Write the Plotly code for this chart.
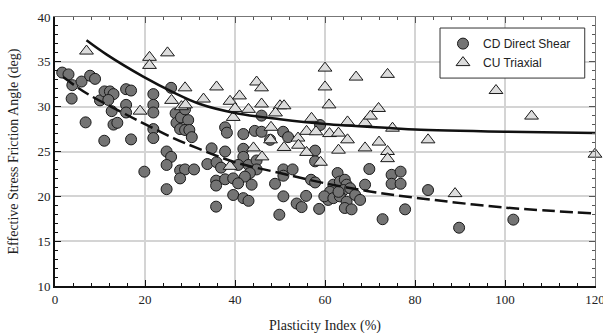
import plotly.graph_objects as go

# CD Direct Shear (circles)
cd_x = [1.6, 3.0, 3.85, 3.7, 5.9, 7.8, 8.9, 6.8, 10.0, 11.0, 12.2, 13.0, 11.85, 12.6, 13.0, 13.85,
        15.8, 16.9, 15.8, 15.8, 10.95, 16.9, 21.85, 21.85, 21.85, 21.85, 21.85, 19.85, 25.8, 26.8,
        27.0, 28.0, 28.9, 29.6, 27.8, 28.9, 29.85, 30.4, 24.8, 25.8, 24.8, 24.8, 27.8, 28.9, 30.9,
        27.8, 34.8, 33.85, 35.9, 36.9, 37.8, 37.8, 38.2, 35.8, 35.8, 37.8, 39.6, 35.8, 39.6, 41.85,
        44.4, 45.9, 45.9, 47.8, 41.85, 41.85, 40.7, 43.0, 44.8, 44.8, 43.3, 42.2, 40.7, 43.7, 41.85,
        43.0, 48.9, 50.75, 50.75, 52.8, 50.75, 49.85, 55.8, 53.7, 54.8, 56.9, 57.8, 57.8, 57.8, 58.7,
        58.9, 50.7, 51.8, 62.8, 61.85, 61.1, 60.7, 59.85, 63.3, 64.4, 64.8, 64.1, 65.6, 66.7, 67.8,
        61.85, 63.3, 64.8, 64.4, 65.9, 63.0, 68.9, 69.85, 74.8, 76.8, 74.8, 76.8, 77.8, 72.8, 82.9,
        89.8, 101.85]
cd_y = [33.8, 33.6, 32.4, 30.9, 32.8, 33.45, 33.1, 28.25, 30.7, 31.7, 31.7, 31.4, 30.75, 29.5, 28.0, 28.2,
        31.95, 31.8, 30.2, 29.35, 26.2, 26.35, 31.4, 30.2, 29.35, 27.5, 26.5, 22.75, 32.1, 29.25,
        28.2, 28.8, 29.7, 28.5, 27.5, 27.4, 27.4, 26.6, 25.0, 24.4, 23.5, 20.8, 22.9, 23.0, 23.0,
        22.0, 25.35, 23.6, 23.8, 23.2, 25.0, 27.7, 27.1, 21.75, 21.2, 21.9, 22.0, 18.85, 20.15, 26.95,
        27.3, 27.2, 29.0, 26.3, 25.3, 24.4, 23.5, 23.5, 24.0, 23.0, 22.6, 22.2, 21.45, 21.3, 19.8,
        19.5, 21.4, 23.0, 22.3, 23.0, 20.0, 17.95, 20.05, 19.2, 18.8, 21.85, 21.55, 25.1, 23.9, 18.6,
        27.95, 27.2, 26.6, 22.6, 21.3, 20.5, 19.6, 20.0, 21.65, 21.85, 21.3, 20.7, 20.9, 20.15, 19.6,
        19.8, 20.0, 19.4, 18.7, 18.55, 20.5, 21.3, 23.05, 22.4, 22.75, 21.4, 21.4, 18.55, 17.45, 20.7,
        16.5, 17.4]

# CU Triaxial (triangles)
cu_x = [7.0, 21.0, 21.0, 25.0, 18.9, 25.9, 28.1, 29.0, 28.9, 33.0, 35.9, 38.9, 39.6, 41.0, 40.0, 43.0,
        44.8, 45.9, 45.9, 50.0, 50.9, 49.0, 48.0, 47.9, 44.1, 46.0, 38.9, 50.9, 54.0, 54.1, 55.9,
        57.0, 55.9, 58.0, 61.0, 63.0, 60.0, 60.0, 60.9, 59.0, 63.0, 65.0, 65.0, 66.9, 68.9, 68.9,
        70.1, 71.9, 72.0, 73.9, 73.9, 73.9, 75.0, 82.9, 88.9, 98.0, 105.9, 120.0]
cu_y = [36.2, 35.5, 34.6, 36.0, 29.5, 30.7, 30.0, 30.2, 32.1, 30.85, 32.2, 30.6, 28.8, 31.2, 29.8, 29.7,
        32.75, 32.1, 30.3, 30.1, 30.1, 29.3, 27.7, 26.3, 25.4, 24.4, 23.35, 25.45, 26.5, 25.7, 24.9,
        28.7, 27.25, 27.2, 27.0, 27.05, 34.3, 32.2, 30.2, 23.8, 25.15, 28.3, 26.3, 33.3, 28.2, 25.4,
        28.95, 29.8, 26.05, 33.6, 25.0, 24.2, 27.6, 26.3, 20.3, 31.8, 28.95, 24.7]

# Trend lines
cu_trend_x = [7, 11.5, 19.6, 26.3, 32.2, 40, 50, 60, 75, 80, 100, 120]
cu_trend_y = [37.4, 35.8, 33.35, 31.6, 30.3, 29.3, 28.6, 28.07, 27.6, 27.45, 27.2, 27.05]
cd_trend_x = [1.8, 7, 15.9, 21.8, 26.3, 31.5, 40, 50, 59.6, 69.3, 80, 100, 120]
cd_trend_y = [33.3, 31.5, 29.1, 27.6, 26.5, 25.4, 23.8, 22.6, 21.5, 20.6, 19.85, 18.75, 18.1]

x_range = [0, 120]
y_range = [10, 40]
x_title = "Plasticity Index (%)"
y_title = "Effective Stress Friction Angle (deg)"

fig = go.Figure()
fig.add_trace(go.Scatter(x=cd_x, y=cd_y, mode="markers", name="CD Direct Shear",
                         marker=dict(symbol="circle", size=11, color="#747474",
                                     line=dict(color="#1a1a1a", width=1))))
fig.add_trace(go.Scatter(x=cu_x, y=cu_y, mode="markers", name="CU Triaxial", cliponaxis=False,
                         marker=dict(symbol="triangle-up", size=12, color="#dcdcdc",
                                     line=dict(color="#1a1a1a", width=1))))
fig.add_trace(go.Scatter(x=cu_trend_x, y=cu_trend_y, mode="lines", showlegend=False,
                         line=dict(color="#111111", width=2.5, shape="spline")))
fig.add_trace(go.Scatter(x=cd_trend_x, y=cd_trend_y, mode="lines", showlegend=False,
                         line=dict(color="#111111", width=2.5, shape="spline", dash="13px,5px")))
# invisible helper trace so the top/right frame axes get drawn
fig.add_trace(go.Scatter(x=x_range, y=y_range, xaxis="x2", yaxis="y2", mode="markers",
                         marker=dict(opacity=0, size=1), showlegend=False, hoverinfo="skip"))

serif = "Liberation Serif"
fig.update_layout(
    width=603, height=333,
    margin=dict(l=55, r=8, t=17, b=47, autoexpand=False),
    paper_bgcolor="white", plot_bgcolor="white",
    font=dict(family=serif, size=12, color="#222"),
    xaxis=dict(range=x_range, dtick=20, tick0=0, showline=True, linecolor="#111", linewidth=2,
               ticks="inside", ticklen=6, tickcolor="#111", tickwidth=1, automargin=False,
               showgrid=True, gridcolor="#d4d4d4", gridwidth=1.5, zeroline=False,
               ticklabeloverflow="allow",
               minor=dict(dtick=4, ticks="inside", ticklen=3, tickcolor="#111", showgrid=False),
               tickfont=dict(family=serif, size=13)),
    yaxis=dict(range=y_range, dtick=5, tick0=10, showline=True, linecolor="#111", linewidth=2,
               ticks="inside", ticklen=6, tickcolor="#111", tickwidth=1, automargin=False,
               showgrid=True, gridcolor="#d4d4d4", gridwidth=1.5, zeroline=False,
               minor=dict(dtick=1, ticks="inside", ticklen=3, tickcolor="#111", showgrid=False),
               tickfont=dict(family=serif, size=13)),
    xaxis2=dict(range=x_range, overlaying="x", side="top", dtick=20, showline=True, automargin=False,
                linecolor="#777", linewidth=1.2, ticks="inside", ticklen=6, tickcolor="#555",
                showticklabels=False, showgrid=False, zeroline=False,
                minor=dict(dtick=4, ticks="inside", ticklen=3, tickcolor="#555", showgrid=False)),
    yaxis2=dict(range=y_range, overlaying="y", side="right", dtick=5, showline=True, automargin=False,
                linecolor="#777", linewidth=1.2, ticks="inside", ticklen=6, tickcolor="#555",
                showticklabels=False, showgrid=False, zeroline=False,
                minor=dict(dtick=1, ticks="inside", ticklen=3, tickcolor="#555", showgrid=False)),
    legend=dict(x=0.7185, y=0.955, xanchor="left", yanchor="top", bgcolor="rgba(0,0,0,0)",
                borderwidth=0, font=dict(family="Liberation Sans", size=12, color="#222"),
                itemwidth=30, tracegroupgap=0),
    showlegend=True,
    shapes=[dict(type="rect", xref="paper", yref="paper", x0=0.713, x1=0.981, y0=0.773, y1=0.959,
                 fillcolor="white", line=dict(color="#333", width=1), layer="above")],
    annotations=[
        dict(text=x_title, xref="paper", yref="paper", x=0.5, y=-0.149, xanchor="center",
             yanchor="middle", showarrow=False, font=dict(family=serif, size=14, color="#222")),
        dict(text=y_title, xref="paper", yref="paper", x=-0.076, y=0.5, xanchor="center",
             yanchor="middle", textangle=-90, showarrow=False, font=dict(family=serif, size=14, color="#222")),
    ],
)
fig.write_html("out.html", config={"displayModeBar": False},
               post_script="document.body.style.margin='0';document.body.style.overflow='hidden';")
